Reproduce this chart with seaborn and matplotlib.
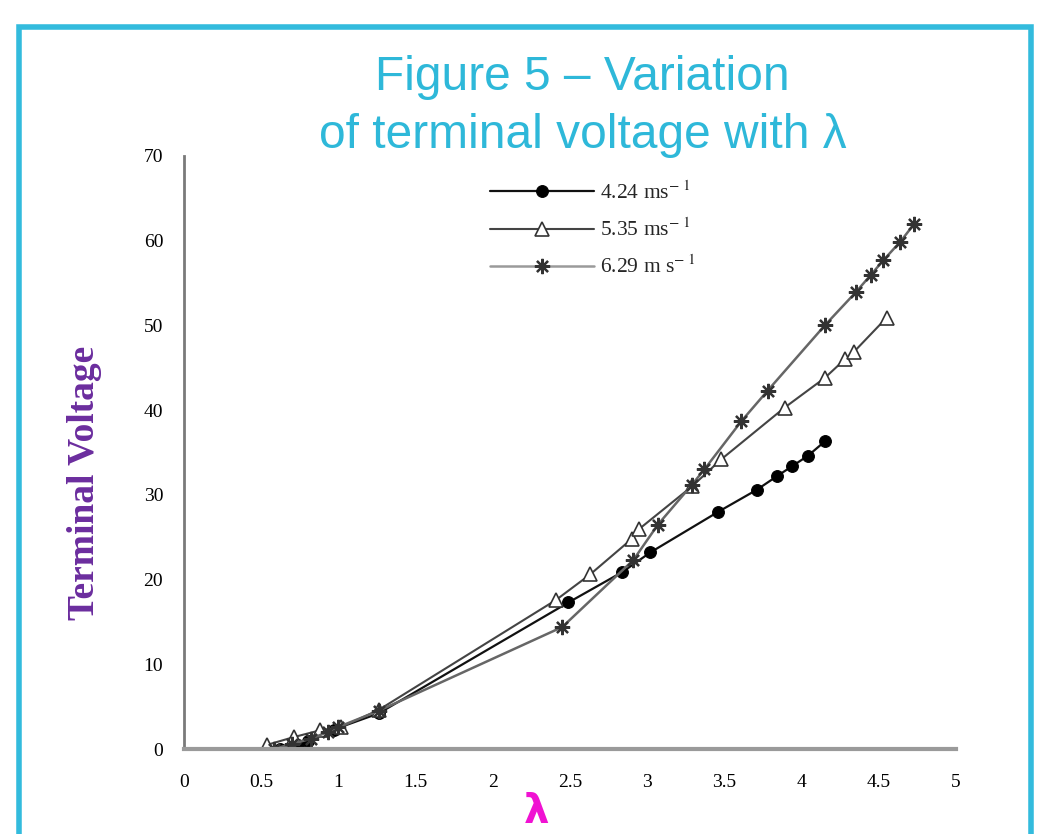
import numpy as np
import pandas as pd
import matplotlib
matplotlib.use("Agg")
import matplotlib.pyplot as plt
import seaborn as sns
from matplotlib.patches import Rectangle

# ---- data ----
lam_424 = [0.62, 0.74, 0.80, 0.97, 1.26, 2.49, 2.84, 3.02, 3.46, 3.71, 3.84, 3.94, 4.04, 4.15]
v_424   = [0.0, 0.5, 0.9, 2.3, 4.2, 17.3, 20.9, 23.2, 28.0, 30.6, 32.2, 33.4, 34.6, 36.3]

lam_535 = [0.54, 0.71, 0.88, 1.02, 1.26, 2.41, 2.63, 2.90, 2.95, 3.29, 3.48, 3.89, 4.15, 4.28, 4.34, 4.55]
v_535   = [0.5, 1.4, 2.2, 2.6, 4.6, 17.6, 20.6, 24.8, 26.0, 31.0, 34.2, 40.3, 43.8, 46.0, 46.9, 50.9]

lam_629 = [0.58, 0.70, 0.82, 0.93, 1.00, 1.26, 2.45, 2.91, 3.07, 3.29, 3.37, 3.61, 3.78, 4.15, 4.35, 4.45, 4.53, 4.64, 4.73]
v_629   = [0.0, 0.6, 1.2, 2.0, 2.6, 4.5, 14.4, 22.3, 26.5, 31.2, 33.0, 38.7, 42.3, 50.0, 53.9, 56.0, 57.7, 59.9, 62.0]

series_labels = [r"4.24 ms$^{-\ 1}$", r"5.35 ms$^{-\ 1}$", r"6.29 m s$^{-\ 1}$"]
x_ticks = [0, 0.5, 1, 1.5, 2, 2.5, 3, 3.5, 4, 4.5, 5]
x_tick_labels = ["0", "0.5", "1", "1.5", "2", "2.5", "3", "3.5", "4", "4.5", "5"]
y_ticks = [0, 10, 20, 30, 40, 50, 60, 70]
title_lines = ["Figure 5 \u2013 Variation", "of terminal voltage with \u03bb"]
y_label = "Terminal Voltage"
x_label = "\u03bb"

df = pd.concat([
    pd.DataFrame({"lam": lam_424, "V": v_424, "s": series_labels[0]}),
    pd.DataFrame({"lam": lam_535, "V": v_535, "s": series_labels[1]}),
    pd.DataFrame({"lam": lam_629, "V": v_629, "s": series_labels[2]}),
], ignore_index=True)

sns.set_style("white")
plt.rcParams["mathtext.fontset"] = "stix"
plt.rcParams["font.family"] = ["Liberation Serif", "DejaVu Serif"]

fig = plt.figure(figsize=(10.38, 8.34), dpi=100)
ax = fig.add_axes([184/1038, 1-749/834, (956-184)/1038, (749-156)/834])

styles = [
    dict(color="#111111", marker="o", markersize=8.5, markerfacecolor="black",
         markeredgecolor="black", linewidth=1.6),
    dict(color="#444444", marker="^", markersize=10, markerfacecolor="white",
         markeredgecolor="#333333", markeredgewidth=1.2, linewidth=1.5),
    dict(color="#666666", marker=(8, 2, 0), markersize=11, markeredgecolor="#333333",
         markeredgewidth=1.6, linewidth=1.8),
]
for lab, st in zip(series_labels, styles):
    sub = df[df["s"] == lab]
    sns.lineplot(data=sub, x="lam", y="V", ax=ax, estimator=None, sort=False,
                 label=lab, **st)

ax.set_xlim(0, 5)
ax.set_ylim(0, 70)
ax.set_xticks(x_ticks)
ax.set_xticklabels(x_tick_labels)
ax.set_yticks(y_ticks)
ax.tick_params(axis="both", direction="out", length=5, width=1.2, color="#555555",
               labelsize=14, labelcolor="black", pad=13)
ax.tick_params(axis="y", pad=10)
for side in ["top", "right"]:
    ax.spines[side].set_visible(False)
ax.spines["bottom"].set_color("#9a9a9a")
ax.spines["bottom"].set_linewidth(3)
ax.spines["left"].set_color("#7a7a7a")
ax.spines["left"].set_linewidth(2)
ax.set_xlabel("")
ax.set_ylabel("")

leg = ax.legend(loc="upper left", bbox_to_anchor=(0.397, 0.957), frameon=False,
                borderaxespad=0, borderpad=0, handlelength=4.8, handletextpad=0.3,
                labelspacing=0.68, fontsize=15.5)
leg_cols = ["#111111", "#444444", "#9a9a9a"]
for h, c in zip(leg.get_lines(), leg_cols):
    h.set_color(c)

# title
fig.text(582/1038, 1-78/834, title_lines[0], ha="center", va="center",
         fontsize=34.5, color="#2EB8D9", family=["Liberation Sans", "DejaVu Sans"])
fig.text(583/1038, 1-135/834, title_lines[1], ha="center", va="center",
         fontsize=34.5, color="#2EB8D9", family=["Liberation Sans", "DejaVu Sans"])

# axis labels
fig.text(84/1038, 1-483/834, y_label, rotation=90, ha="center", va="center",
         fontsize=27, fontweight="bold", color="#6B2D9E")
fig.text(537/1038, 2/834, x_label, ha="center", va="bottom",
         fontsize=29, fontweight="bold", color="#F012D2",
         family=["DejaVu Sans"])

# slide frame
fig.patches.append(Rectangle((19/1038, -0.1), (1031-19)/1038, 1-27/834+0.1,
                             transform=fig.transFigure, fill=False,
                             edgecolor="#33BBDD", linewidth=4))

fig.savefig("out.png", dpi=100)
